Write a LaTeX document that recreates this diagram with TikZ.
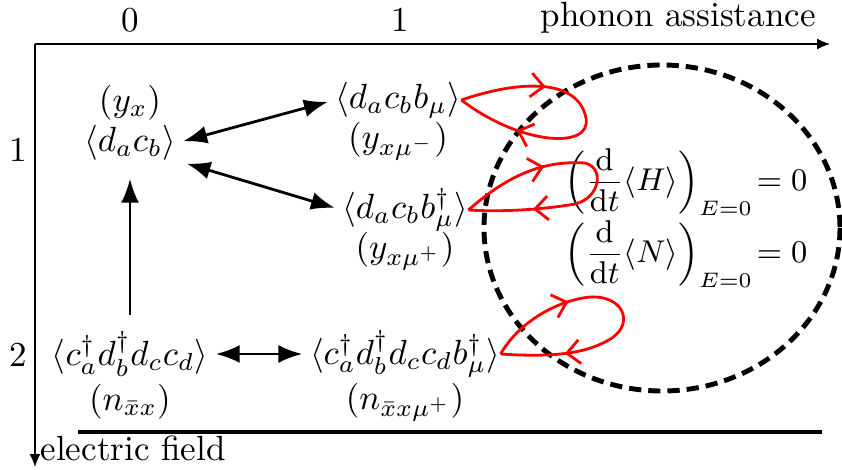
\documentclass[tikz,border=0pt]{standalone}
\usepackage{tikz}
\usetikzlibrary{
  arrows.meta,
  decorations.markings
}
\tikzset{
  term/.style={
    inner sep=0pt
  },
  axis/.style={
    -{Latex[length=1.3mm,width=1.1mm]},
    thin
  },
  link/.style={
    {Latex[length=2.4mm]}-{Latex[length=2.4mm]},
    thick
  },
  feed/.style={
    -{Latex[length=2.4mm]},
    thick
  },
  selfloop/.style={
    red,
    thick,
    postaction={decorate},
    decoration={
      markings,
      mark=at position 0.3 with {\arrow{Straight Barb[length=1.3mm,width=2.4mm]}},
      mark=at position 0.78 with {\arrow{Straight Barb[length=1.3mm,width=2.4mm]}}
    }
  },
  boundary/.style={
    line width=1.4pt,
    dash pattern=on 3.5pt off 2pt
  },
  balance/.style={
    font=\small,
    inner sep=0pt
  }
}

\begin{document}
\begin{tikzpicture}[x=0.2857pt,y=-0.2857pt]

  \useasboundingbox (0,0) rectangle (842,470);

  % axes
  \coordinate (origin) at (35,44);
  \coordinate (phononend) at (830,44);
  \coordinate (fieldend) at (35,467);
  \draw[axis] (origin) -- (phononend);
  \draw[axis] (origin) -- (fieldend);

  \node (p0) at (130,20) {0};
  \node (p1) at (400,20) {1};
  \node[anchor=east] (plabel) at (828,18) {phonon assistance};
  \node (e1) at (18,150) {1};
  \node (e2) at (18,355) {2};
  \node[anchor=west, inner sep=0pt] (elabel) at (40,448) {electric field};

  \coordinate (baseleft) at (78,432);
  \coordinate (baseright) at (822,432);
  \draw[line width=1pt] (baseleft) -- (baseright);

  % correlation terms
  \node[term] (yx) at (130,103) {$(y_x)$};
  \node[term] (A) at (130,143) {$\langle d_a c_b\rangle$};
  \node[term] (B) at (398,100) {$\langle d_a c_b b_\mu\rangle$};
  \node[term] (yB) at (398,141) {$(y_{x\mu^-})$};
  \node[term] (C) at (405,210) {$\langle d_a c_b b_\mu^\dagger\rangle$};
  \node[term] (yC) at (405,251) {$(y_{x\mu^+})$};
  \node[term] (D) at (130,354) {$\langle c_a^\dagger d_b^\dagger d_c c_d\rangle$};
  \node[term] (nD) at (130,402) {$(n_{\bar x x})$};
  \node[term] (E) at (405,354) {$\langle c_a^\dagger d_b^\dagger d_c c_d b_\mu^\dagger\rangle$};
  \node[term] (nE) at (405,402) {$(n_{\bar x x\mu^+})$};

  \draw[link, shorten <=2pt, shorten >=2pt] (A.east) -- (B.west);
  \draw[link, shorten <=3pt, shorten >=2pt] ([yshift=-5pt]A.east) -- (C.west);
  \draw[feed, shorten <=4.5pt, shorten >=5pt] (D.north) -- (A.south);
  \draw[link, shorten <=2pt, shorten >=2pt] (D.east) -- (E.west);

  % energy conservation region
  \draw[boundary] (662,228) ellipse [x radius=178, y radius=163];
  \node[balance] (eqH) at (686,182)
    {$\displaystyle\left(\frac{\mathrm{d}}{\mathrm{d}t}\langle H\rangle\right)_{E=0}\!=0$};
  \node[balance] (eqN) at (686,254)
    {$\displaystyle\left(\frac{\mathrm{d}}{\mathrm{d}t}\langle N\rangle\right)_{E=0}\!=0$};

  \draw[selfloop] (B.east)
    .. controls (520,80) and (578,78) .. (586,118)
    .. controls (592,150) and (520,145) .. (B.east);
  \draw[selfloop] (C.east)
    .. controls (505,178) and (540,160) .. (585,163)
    .. controls (605,168) and (600,198) .. (575,204)
    .. controls (540,210) and (500,212) .. (C.east);
  \draw[selfloop] (E.east)
    .. controls (520,320) and (560,300) .. (590,297)
    .. controls (622,295) and (635,322) .. (612,338)
    .. controls (590,352) and (560,358) .. (E.east);

\end{tikzpicture}
\end{document}
